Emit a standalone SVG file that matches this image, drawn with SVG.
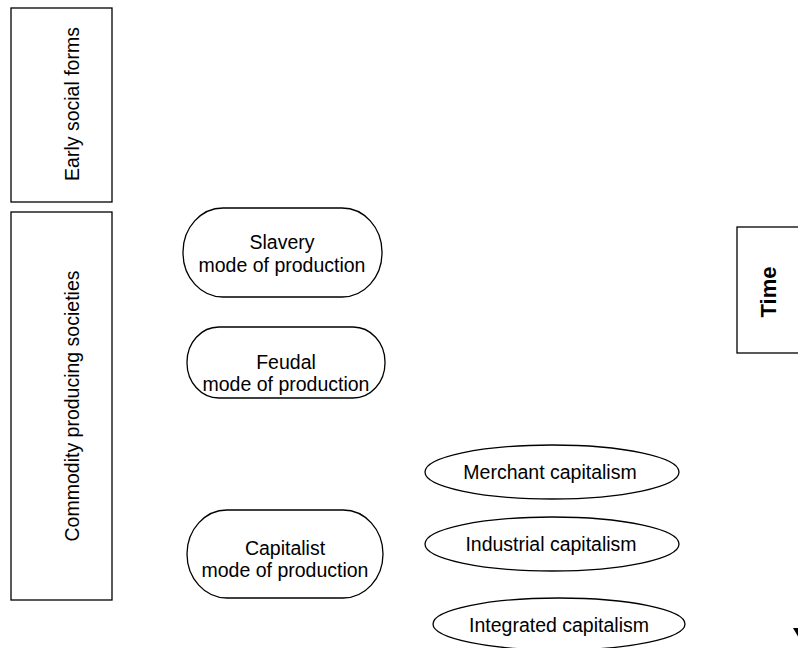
<svg xmlns="http://www.w3.org/2000/svg" width="798" height="648" viewBox="0 0 798 648">
<style>
.box{fill:#fff;stroke:#000;stroke-width:1.3}
.t{font-family:"Liberation Sans",Arial,sans-serif;font-size:19.5px;fill:#000;text-anchor:middle}
.b{font-weight:bold}
</style>
<rect width="798" height="648" fill="#fff"/>
<g id="early">
<rect class="box" x="11" y="8" width="101" height="194"/>
<text class="t" transform="translate(79,104) rotate(-90)">Early social forms</text>
</g>
<g id="commodity">
<rect class="box" x="11" y="212" width="101" height="388"/>
<text class="t" transform="translate(79,406) rotate(-90)">Commodity producing societies</text>
</g>
<g id="slavery">
<rect class="box" x="183" y="208" width="199" height="89" rx="40" ry="44"/>
<text class="t" x="282" y="249">Slavery</text>
<text class="t" x="282" y="272">mode of production</text>
</g>
<g id="feudal">
<rect class="box" x="187" y="327" width="198" height="71" rx="32" ry="35"/>
<text class="t" x="286" y="369">Feudal</text>
<text class="t" x="286" y="391">mode of production</text>
</g>
<g id="capitalist">
<rect class="box" x="187" y="510" width="196" height="88" rx="40" ry="44"/>
<text class="t" x="285" y="555">Capitalist</text>
<text class="t" x="285" y="577">mode of production</text>
</g>
<g id="merchant">
<ellipse class="box" cx="552" cy="472" rx="127" ry="27"/>
<text class="t" x="550" y="479">Merchant capitalism</text>
</g>
<g id="industrial">
<ellipse class="box" cx="552" cy="544" rx="127" ry="27"/>
<text class="t" x="551" y="551">Industrial capitalism</text>
</g>
<g id="integrated">
<ellipse class="box" cx="559" cy="624" rx="126" ry="26"/>
<text class="t" x="559" y="632">Integrated capitalism</text>
</g>
<g id="time">
<rect class="box" x="737" y="227" width="80" height="126"/>
<text class="t b" style="font-size:22px" transform="translate(776,292) rotate(-90)">Time</text>
</g>
<g id="connectors">
<polygon points="793,628 807,628 800,640" fill="#000"/>
</g>
</svg>
